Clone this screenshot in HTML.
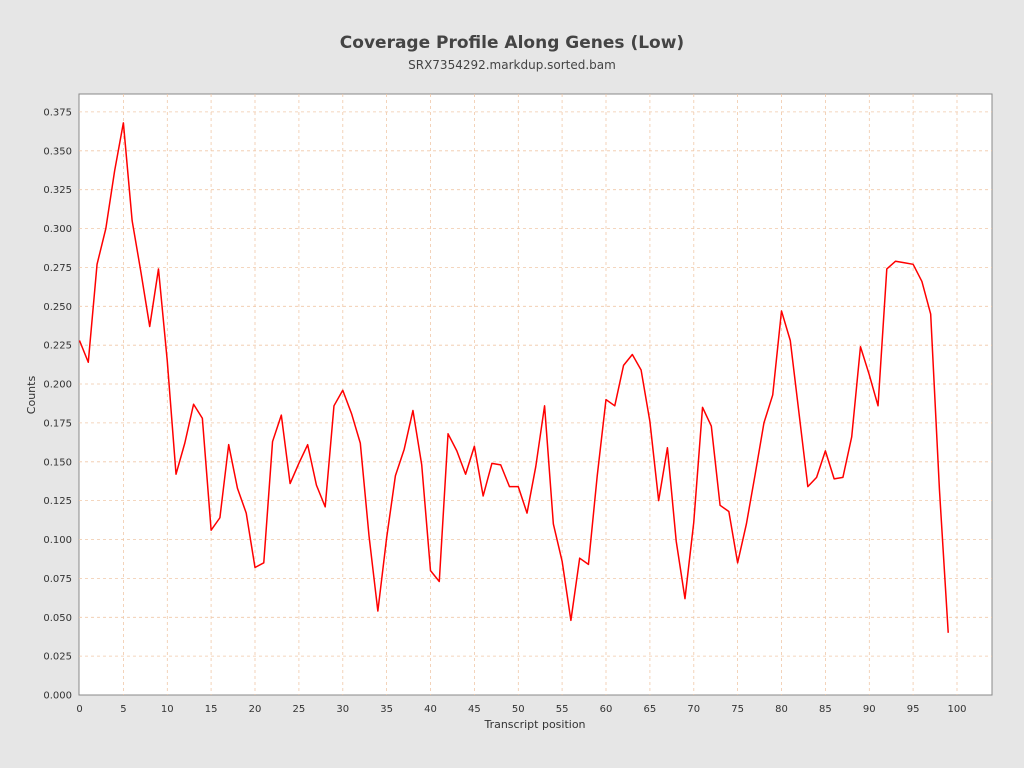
<!DOCTYPE html>
<html><head><meta charset="utf-8"><style>
html,body{margin:0;padding:0;background:#e6e6e6;}
svg{display:block;font-family:"DejaVu Sans","Liberation Sans",sans-serif;}
</style></head><body>
<svg width="1024" height="768" viewBox="0 0 1024 768" xmlns="http://www.w3.org/2000/svg">
<rect width="1024" height="768" fill="#e6e6e6"/>
<text x="512" y="48" text-anchor="middle" font-size="17" font-weight="bold" fill="#444">Coverage Profile Along Genes (Low)</text>
<text x="512" y="69" text-anchor="middle" font-size="12" fill="#444">SRX7354292.markdup.sorted.bam</text>
<rect x="79" y="94" width="913" height="601" fill="#fff" stroke="#888" stroke-width="1"/>
<g stroke="#f0c8a8" stroke-width="0.8" stroke-dasharray="3,3">
<line x1="79" x2="992" y1="656.1" y2="656.1"/><line x1="79" x2="992" y1="617.3" y2="617.3"/><line x1="79" x2="992" y1="578.4" y2="578.4"/><line x1="79" x2="992" y1="539.5" y2="539.5"/><line x1="79" x2="992" y1="500.6" y2="500.6"/><line x1="79" x2="992" y1="461.8" y2="461.8"/><line x1="79" x2="992" y1="422.9" y2="422.9"/><line x1="79" x2="992" y1="384.0" y2="384.0"/><line x1="79" x2="992" y1="345.2" y2="345.2"/><line x1="79" x2="992" y1="306.3" y2="306.3"/><line x1="79" x2="992" y1="267.4" y2="267.4"/><line x1="79" x2="992" y1="228.6" y2="228.6"/><line x1="79" x2="992" y1="189.7" y2="189.7"/><line x1="79" x2="992" y1="150.8" y2="150.8"/><line x1="79" x2="992" y1="111.9" y2="111.9"/>
<line y1="94" y2="695" x1="123.4" x2="123.4"/><line y1="94" y2="695" x1="167.3" x2="167.3"/><line y1="94" y2="695" x1="211.1" x2="211.1"/><line y1="94" y2="695" x1="255.0" x2="255.0"/><line y1="94" y2="695" x1="298.9" x2="298.9"/><line y1="94" y2="695" x1="342.8" x2="342.8"/><line y1="94" y2="695" x1="386.6" x2="386.6"/><line y1="94" y2="695" x1="430.5" x2="430.5"/><line y1="94" y2="695" x1="474.4" x2="474.4"/><line y1="94" y2="695" x1="518.3" x2="518.3"/><line y1="94" y2="695" x1="562.1" x2="562.1"/><line y1="94" y2="695" x1="606.0" x2="606.0"/><line y1="94" y2="695" x1="649.9" x2="649.9"/><line y1="94" y2="695" x1="693.8" x2="693.8"/><line y1="94" y2="695" x1="737.6" x2="737.6"/><line y1="94" y2="695" x1="781.5" x2="781.5"/><line y1="94" y2="695" x1="825.4" x2="825.4"/><line y1="94" y2="695" x1="869.3" x2="869.3"/><line y1="94" y2="695" x1="913.1" x2="913.1"/><line y1="94" y2="695" x1="957.0" x2="957.0"/>
</g>
<g font-size="10" fill="#333" text-anchor="end">
<text x="72" y="698.5">0.000</text><text x="72" y="659.6">0.025</text><text x="72" y="620.8">0.050</text><text x="72" y="581.9">0.075</text><text x="72" y="543">0.100</text><text x="72" y="504.1">0.125</text><text x="72" y="465.3">0.150</text><text x="72" y="426.4">0.175</text><text x="72" y="387.5">0.200</text><text x="72" y="348.7">0.225</text><text x="72" y="309.8">0.250</text><text x="72" y="270.9">0.275</text><text x="72" y="232.1">0.300</text><text x="72" y="193.2">0.325</text><text x="72" y="154.3">0.350</text><text x="72" y="115.4">0.375</text>
</g>
<g font-size="10" fill="#333" text-anchor="middle">
<text x="79.5" y="712">0</text><text x="123.4" y="712">5</text><text x="167.3" y="712">10</text><text x="211.1" y="712">15</text><text x="255" y="712">20</text><text x="298.9" y="712">25</text><text x="342.8" y="712">30</text><text x="386.6" y="712">35</text><text x="430.5" y="712">40</text><text x="474.4" y="712">45</text><text x="518.3" y="712">50</text><text x="562.1" y="712">55</text><text x="606" y="712">60</text><text x="649.9" y="712">65</text><text x="693.8" y="712">70</text><text x="737.6" y="712">75</text><text x="781.5" y="712">80</text><text x="825.4" y="712">85</text><text x="869.3" y="712">90</text><text x="913.1" y="712">95</text><text x="957" y="712">100</text>
</g>
<text x="535" y="728" text-anchor="middle" font-size="11" fill="#333">Transcript position</text>
<text transform="translate(35,395) rotate(-90)" text-anchor="middle" font-size="11" fill="#333">Counts</text>
<polyline transform="translate(79.5,695) scale(8.775,-1554.8)" vector-effect="non-scaling-stroke" fill="none" stroke="#ff0000" stroke-width="1.5" stroke-linejoin="round"
points="0,0.228 1,0.214 2,0.277 3,0.300 4,0.337 5,0.368 6,0.305 7,0.272 8,0.237 9,0.274 10,0.215 11,0.142 12,0.162 13,0.187 14,0.178 15,0.106 16,0.114 17,0.161 18,0.133 19,0.117 20,0.082 21,0.085 22,0.163 23,0.180 24,0.136 25,0.149 26,0.161 27,0.135 28,0.121 29,0.186 30,0.196 31,0.181 32,0.162 33,0.102 34,0.054 35,0.101 36,0.141 37,0.158 38,0.183 39,0.148 40,0.080 41,0.073 42,0.168 43,0.157 44,0.142 45,0.160 46,0.128 47,0.149 48,0.148 49,0.134 50,0.134 51,0.117 52,0.147 53,0.186 54,0.110 55,0.086 56,0.048 57,0.088 58,0.084 59,0.141 60,0.190 61,0.186 62,0.212 63,0.219 64,0.209 65,0.176 66,0.125 67,0.159 68,0.099 69,0.062 70,0.111 71,0.185 72,0.173 73,0.122 74,0.118 75,0.085 76,0.110 77,0.142 78,0.175 79,0.193 80,0.247 81,0.228 82,0.181 83,0.134 84,0.140 85,0.157 86,0.139 87,0.140 88,0.166 89,0.224 90,0.206 91,0.186 92,0.274 93,0.279 94,0.278 95,0.277 96,0.266 97,0.245 98,0.132 99,0.040"/>
</svg>
</body></html>
